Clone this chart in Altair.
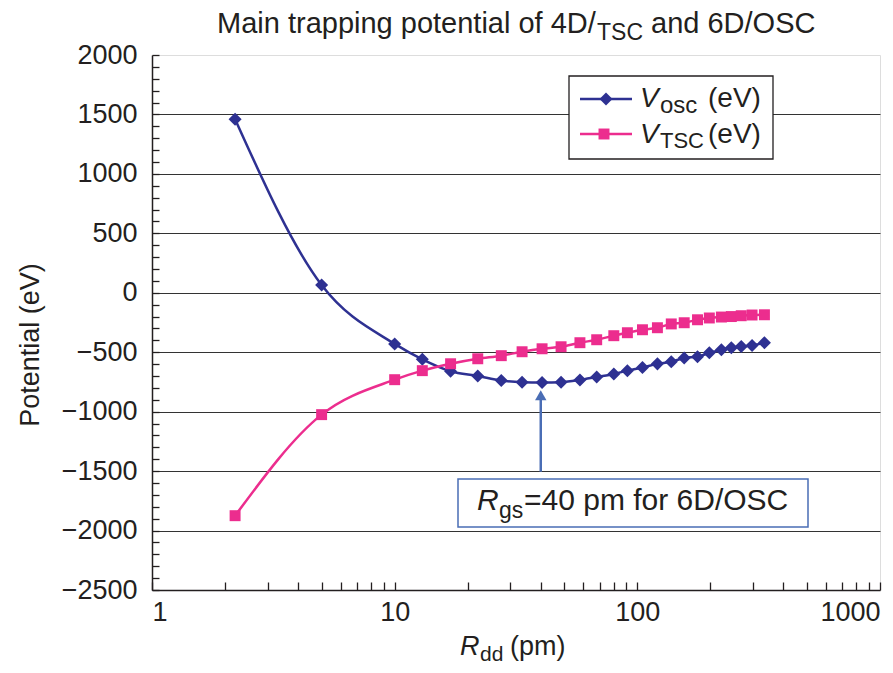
import altair as alt
import pandas as pd

# ---------------- data ----------------
R_OSC = [2.2, 5.0, 10, 13, 17, 22, 27.5, 33.5, 40.5, 48.5, 58, 68, 80, 91, 105,
         121, 138, 156, 177, 198, 222, 244, 268, 297, 334]
V_OSC = [1460, 65, -430, -560, -660, -700, -738, -752, -755, -752, -733, -708,
         -683, -655, -628, -598, -580, -548, -538, -505, -480, -462, -452, -443, -420]
R_TSC = [2.2, 5.0, 10, 13, 17, 22, 27.5, 33.5, 40.5, 48.5, 58, 68, 80, 91, 105,
         121, 138, 156, 177, 198, 222, 244, 268, 297, 334]
V_TSC = [-1875, -1025, -731, -655, -597, -555, -529, -496, -471, -454, -420, -395,
         -361, -336, -311, -294, -262, -252, -227, -212, -204, -200, -193, -187, -185]

ARROW_R = [40, 40]
ARROW_V = [-1505, -875]
ARROW_HEAD_V = [-862]

X_LABELS = [1, 10, 100, 1000]
X_MINOR = [1, 2, 3, 4, 5, 6, 7, 8, 9, 10, 20, 30, 40, 50, 60, 70, 80, 90,
           100, 200, 300, 400, 500, 600, 700, 800, 900, 1000]
Y_LABELS = [-2500, -2000, -1500, -1000, -500, 0, 500, 1000, 1500, 2000]
Y_GRID = [-2000, -1500, -1000, -500, 0, 500, 1000, 1500]
Y_MINOR = list(range(-2500, 2001, 100))

TITLE_PARTS = ["Main trapping potential of 4D/", "TSC", "and 6D/OSC"]
LEG_OSC = ["V", "osc", "(eV)"]
LEG_TSC = ["V", "TSC", "(eV)"]
NOTE_PARTS = ["R", "gs", "=40 pm for 6D/OSC"]
XTITLE_PARTS = ["R", "dd", "(pm)"]
Y_TITLE = "Potential (eV)"

# ---------------- style ----------------
FONT = "Liberation Sans"
INK = "#231f20"
NAVY = "#2e3192"
PINK = "#ec2d8e"
BLUE = "#4a6db5"
W, H = 728, 535

xs = alt.Scale(type="log", domain=[1, 1000], nice=False)
ys = alt.Scale(domain=[-2500, 2000], nice=False, zero=False)

osc = pd.DataFrame({"R": R_OSC, "V": V_OSC})
tsc = pd.DataFrame({"R": R_TSC, "V": V_TSC})
arrow = pd.DataFrame({"R": ARROW_R, "V": ARROW_V})
head = pd.DataFrame({"R": [ARROW_R[0]], "V": ARROW_HEAD_V})

# main axes: labels + domain
osc_line = alt.Chart(osc).mark_line(interpolate="monotone", color=NAVY, strokeWidth=2.5).encode(
    x=alt.X("R:Q", scale=xs, axis=alt.Axis(
        orient="bottom", values=X_LABELS, format="d", ticks=False, grid=False,
        domainColor=INK, domainWidth=1.5, labelFont=FONT, labelFontSize=27,
        labelColor=INK, labelPadding=9, title=None)),
    y=alt.Y("V:Q", scale=ys, axis=alt.Axis(
        orient="left", values=Y_LABELS, format="d", ticks=False, grid=False,
        domainColor=INK, domainWidth=1.5, labelFont=FONT, labelFontSize=27,
        labelColor=INK, labelPadding=15, title=Y_TITLE, titleFont=FONT,
        titleFontSize=27, titleFontWeight="normal", titleColor=INK,
        titleX=-122, titleY=H / 2 + 22, titleAngle=270, titleAlign="center",
        titleBaseline="middle")),
)

# grid lines
osc_pts = alt.Chart(osc).mark_point(shape="diamond", filled=True, size=170, color=NAVY, opacity=1).encode(
    x=alt.X("R:Q", scale=xs, axis=None),
    y=alt.Y("V:Q", scale=ys, axis=alt.Axis(
        orient="left", values=Y_GRID, grid=True, gridColor="#333333", gridWidth=1.1,
        labels=False, ticks=False, domain=False, title=None)),
)

# inward minor ticks
tsc_line = alt.Chart(tsc).mark_line(interpolate="monotone", color=PINK, strokeWidth=2.5).encode(
    x=alt.X("R:Q", scale=xs, axis=alt.Axis(
        orient="top", offset=-H, values=X_MINOR, ticks=True, tickSize=8,
        tickColor=INK, tickWidth=1.3, labels=False, domain=False, grid=False, title=None)),
    y=alt.Y("V:Q", scale=ys, axis=alt.Axis(
        orient="right", offset=-W, values=Y_MINOR, ticks=True, tickSize=7,
        tickColor=INK, tickWidth=1.3, labels=False, domain=False, grid=False, title=None)),
)

tsc_pts = alt.Chart(tsc).mark_point(shape="square", filled=True, size=120, color=PINK, opacity=1).encode(
    x=alt.X("R:Q", scale=xs, axis=None),
    y=alt.Y("V:Q", scale=ys, axis=None),
)

arrow_line = alt.Chart(arrow).mark_line(color=BLUE, strokeWidth=2.5).encode(
    x=alt.X("R:Q", scale=xs, axis=None),
    y=alt.Y("V:Q", scale=ys, axis=None),
)
arrow_head = alt.Chart(head).mark_point(shape="triangle-up", filled=True, size=130, color=BLUE, opacity=1).encode(
    x=alt.X("R:Q", scale=xs, axis=None),
    y=alt.Y("V:Q", scale=ys, axis=None),
)

one = pd.DataFrame({"k": [0]})


def box(x1, x2, y1, y2, stroke, sw):
    return alt.Chart(one).mark_rect(fill="white", stroke=stroke, strokeWidth=sw).encode(
        x=alt.value(x1), x2=alt.value(x2), y=alt.value(y1), y2=alt.value(y2))


def txt(s, x, y, size=28, italic=False, align="left", color=INK):
    return alt.Chart(pd.DataFrame({"t": [s]})).mark_text(
        align=align, baseline="alphabetic", font=FONT, fontSize=size,
        fontStyle="italic" if italic else "normal", color=color).encode(
        text="t:N", x=alt.value(x), y=alt.value(y))


def legline(x1, x2, y, color):
    return alt.Chart(one).mark_rule(color=color, strokeWidth=2.5).encode(
        x=alt.value(x1), x2=alt.value(x2), y=alt.value(y))


def legpt(x, y, shape, size, color):
    return alt.Chart(one).mark_point(shape=shape, filled=True, size=size, color=color, opacity=1).encode(
        x=alt.value(x), y=alt.value(y))


# title
title_layers = [
    txt(TITLE_PARTS[0], 65, -22, 29),
    txt(TITLE_PARTS[1], 445, -15, 23),
    txt(TITLE_PARTS[2], 499, -22, 29),
]

# legend
legend_layers = [
    box(417, 621, 21, 104, INK, 1.3),
    legline(428, 480, 44, NAVY), legpt(454, 44, "diamond", 170, NAVY),
    legline(428, 480, 79, PINK), legpt(452, 79, "square", 120, PINK),
    txt(LEG_OSC[0], 488, 52, 28, italic=True),
    txt(LEG_OSC[1], 508, 58, 24),
    txt(LEG_OSC[2], 556, 52, 28),
    txt(LEG_TSC[0], 488, 88, 28, italic=True),
    txt(LEG_TSC[1], 508, 93, 22),
    txt(LEG_TSC[2], 556, 88, 28),
]

# annotation
note_layers = [
    box(306, 656, 424, 472, BLUE, 1.5),
    txt(NOTE_PARTS[0], 325, 455, 30, italic=True),
    txt(NOTE_PARTS[1], 347, 463, 23),
    txt(NOTE_PARTS[2], 372, 455, 30),
]

# x axis title
xtitle_layers = [
    txt(XTITLE_PARTS[0], 308, 600, 27, italic=True),
    txt(XTITLE_PARTS[1], 328, 606, 21),
    txt(XTITLE_PARTS[2], 358, 600, 27),
]

chart = alt.layer(
    osc_line, osc_pts, tsc_line, tsc_pts, arrow_line, arrow_head,
    *note_layers, *legend_layers, *title_layers, *xtitle_layers,
).resolve_axis(x="independent", y="independent").properties(
    width=W, height=H,
    autosize=alt.AutoSizeParams(type="none"),
    padding={"left": 144, "top": 47, "right": 5, "bottom": 75},
).configure_view(stroke="#a0a0a0", strokeWidth=1.2).configure(background="white")

chart.save("out.html", embed_options={"renderer": "svg", "actions": False})
